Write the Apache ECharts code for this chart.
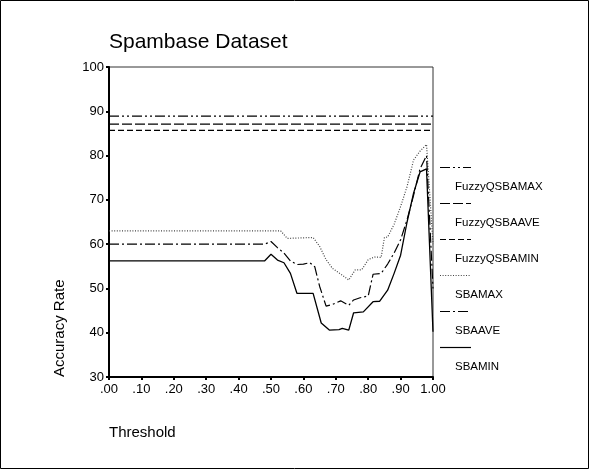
<!DOCTYPE html>
<html>
<head>
<meta charset="utf-8">
<script src="https://cdn.jsdelivr.net/npm/echarts@6/dist/echarts.min.js"></script>
<style>
  html, body { margin: 0; padding: 0; background: #fff; }
  #chart { width: 589px; height: 469px; }
</style>
</head>
<body>
<div id="chart"></div>
<script>
// series names, same order as the legend
const seriesNames = ['FuzzyQSBAMAX', 'FuzzyQSBAAVE', 'FuzzyQSBAMIN', 'SBAMAX', 'SBAAVE', 'SBAMIN'];

// fuzzy results are constant over the threshold
const fuzzyX = [0, 1];
const fuzzyMaxY = [88.9, 88.9];
const fuzzyAveY = [87.1, 87.1];
const fuzzyMinY = [85.7, 85.7];

const sbaMaxX = [0, 0.53, 0.55, 0.63, 0.65, 0.67, 0.69, 0.72, 0.74, 0.76, 0.78, 0.80, 0.82, 0.84, 0.85, 0.86, 0.88, 0.90, 0.92, 0.94, 0.96, 0.98, 1.0];
const sbaMaxY = [63.0, 63.0, 61.3, 61.5, 59.5, 56.5, 54.5, 53.0, 51.9, 54.2, 54.2, 56.5, 57.1, 57.0, 61.5, 61.6, 64.5, 68.5, 73.0, 79.0, 81.0, 82.5, 60.0];

const sbaAveX = [0, 0.48, 0.50, 0.52, 0.54, 0.56, 0.58, 0.60, 0.62, 0.635, 0.65, 0.67, 0.69, 0.715, 0.74, 0.755, 0.775, 0.80, 0.815, 0.84, 0.86, 0.88, 0.90, 0.92, 0.94, 0.96, 0.98, 1.0];
const sbaAveY = [60.0, 60.0, 60.6, 59.2, 58.0, 56.2, 55.4, 55.5, 55.8, 54.9, 50.5, 46.0, 46.4, 47.2, 46.2, 47.4, 47.9, 48.3, 53.2, 53.4, 55.5, 58.0, 61.0, 65.5, 71.0, 77.0, 80.0, 50.0];

const sbaMinX = [0, 0.48, 0.50, 0.52, 0.54, 0.56, 0.58, 0.63, 0.655, 0.68, 0.71, 0.72, 0.74, 0.755, 0.785, 0.815, 0.835, 0.86, 0.88, 0.90, 0.92, 0.94, 0.96, 0.98, 1.0];
const sbaMinY = [56.2, 56.2, 57.7, 56.4, 55.8, 53.4, 48.9, 48.9, 42.2, 40.6, 40.7, 41.0, 40.6, 44.5, 44.7, 47.0, 47.1, 49.6, 53.4, 57.5, 65.0, 71.5, 76.3, 77.0, 40.2];

// dash patterns, one per series
const dashes = [[10, 3, 2, 3, 2, 3], [10, 3], [6, 3], [1, 1.6], [10, 3, 2, 3], 'solid'];

const font = 'Liberation Sans, Arial, sans-serif';

function pairs(xs, ys) {
  return xs.map((x, i) => [x, ys[i]]);
}

const seriesData = [
  pairs(fuzzyX, fuzzyMaxY),
  pairs(fuzzyX, fuzzyAveY),
  pairs(fuzzyX, fuzzyMinY),
  pairs(sbaMaxX, sbaMaxY),
  pairs(sbaAveX, sbaAveY),
  pairs(sbaMinX, sbaMinY)
];

// legend: sample line on one row, name indented below it
const legendGraphics = [];
seriesNames.forEach((name, i) => {
  const y = 167.5 + 36 * i;
  legendGraphics.push({
    type: 'line',
    shape: { x1: 440, y1: y, x2: 471, y2: y },
    style: {
      stroke: i === 3 ? '#444' : '#000',
      lineWidth: 1.2,
      lineDash: dashes[i] === 'solid' ? null : dashes[i]
    }
  });
  legendGraphics.push({
    type: 'text',
    x: 455,
    y: y + 19.5,
    style: { text: name, font: '11.5px ' + font, fill: '#000', textVerticalAlign: 'middle' }
  });
});

const chart = echarts.init(document.getElementById('chart'));

const option = {
  animation: false,
  backgroundColor: '#fff',
  title: {
    text: 'Spambase Dataset',
    left: 104,
    top: 27,
    textStyle: { fontFamily: font, fontSize: 21, fontWeight: 'normal', color: '#000' }
  },
  grid: {
    left: 109,
    top: 67,
    width: 324,
    height: 310,
    show: true,
    borderColor: '#333',
    borderWidth: 1
  },
  xAxis: {
    type: 'value',
    min: 0,
    max: 1,
    interval: 0.1,
    splitLine: { show: false },
    axisLine: { lineStyle: { color: '#000', width: 2 } },
    axisTick: { length: 3, lineStyle: { color: '#000', width: 2 } },
    axisLabel: {
      margin: 6,
      color: '#000',
      fontFamily: font,
      fontSize: 13,
      formatter: v => {
        const n = Math.round(v * 100);
        return n === 100 ? '1.00' : '.' + String(n).padStart(2, '0');
      }
    }
  },
  yAxis: {
    type: 'value',
    min: 30,
    max: 100,
    interval: 10,
    splitLine: { show: false },
    axisLine: { lineStyle: { color: '#000', width: 2 } },
    axisTick: { length: 3, lineStyle: { color: '#000', width: 2 } },
    axisLabel: { margin: 5, color: '#000', fontFamily: font, fontSize: 13 }
  },
  series: seriesNames.map((name, i) => ({
    name: name,
    type: 'line',
    data: seriesData[i],
    showSymbol: false,
    symbol: 'none',
    lineStyle: {
      color: i === 3 ? '#444' : '#000',
      width: i === 5 ? 1.3 : 1.2,
      type: dashes[i]
    }
  })),
  graphic: [
    {
      type: 'rect',
      shape: { x: 0.5, y: 0.5, width: 588, height: 468 },
      style: { fill: null, stroke: '#000', lineWidth: 1 }
    },
    {
      type: 'text',
      x: 60,
      y: 377,
      rotation: Math.PI / 2,
      style: { text: 'Accuracy Rate', font: '15px ' + font, fill: '#000', textAlign: 'left', textVerticalAlign: 'middle' }
    },
    {
      type: 'text',
      x: 109,
      y: 433,
      style: { text: 'Threshold', font: '15px ' + font, fill: '#000', textVerticalAlign: 'middle' }
    }
  ].concat(legendGraphics)
};

chart.setOption(option);
</script>
</body>
</html>
